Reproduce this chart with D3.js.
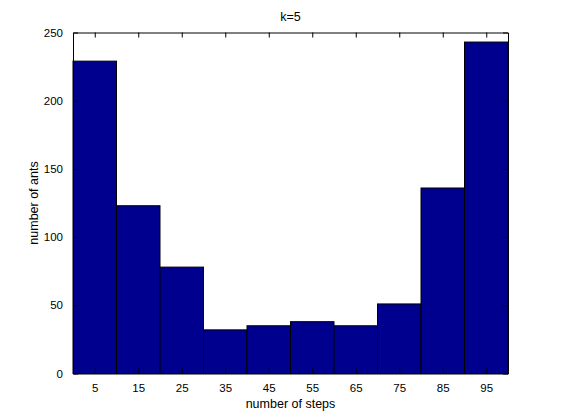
<!DOCTYPE html>
<html><head><meta charset="utf-8">
<script src="https://cdn.jsdelivr.net/npm/d3@7"></script>
<style>body{margin:0;background:#fff}svg{display:block}text{font-family:"Liberation Sans",Arial,sans-serif;fill:#000}</style>
</head><body><svg id="c" width="561" height="420"></svg>
<script>
const binCenters = [5, 15, 25, 35, 45, 55, 65, 75, 85, 95];
const counts = [229, 123, 78, 32, 35, 38, 35, 51, 136, 243];
const yTicks = [0, 50, 100, 150, 200, 250];
const title = "k=5";
const xLabel = "number of steps";
const yLabel = "number of ants";

const svg = d3.select("#c");
const L = 73, R = 508, T = 32.5, B = 373.5;
const x = d3.scaleLinear().domain([0, 100]).range([L, R]);
const y = d3.scaleLinear().domain([0, 250]).range([B, T]);

svg.append("rect").attr("x", L).attr("y", T).attr("width", R - L).attr("height", B - T).attr("fill", "#fff");

svg.append("g").selectAll("rect").data(binCenters).join("rect")
  .attr("x", d => x(d - 5)).attr("width", d => x(d + 5) - x(d - 5))
  .attr("y", (d, i) => y(counts[i])).attr("height", (d, i) => y(0) - y(counts[i]))
  .attr("fill", "#00008f").attr("stroke", "#000").attr("stroke-width", 1);

const fs = "11.5px";
const gB = svg.append("g").attr("transform", `translate(0,${B})`)
  .call(d3.axisBottom(x).tickValues(binCenters).tickSizeInner(-5).tickSizeOuter(0).tickPadding(10));
const gT = svg.append("g").attr("transform", `translate(0,${T})`)
  .call(d3.axisTop(x).tickValues(binCenters).tickSizeInner(-5).tickSizeOuter(0).tickFormat(""));
const gL = svg.append("g").attr("transform", `translate(${L},0)`)
  .call(d3.axisLeft(y).tickValues(yTicks).tickSizeInner(-5).tickSizeOuter(0).tickPadding(10));
const gR = svg.append("g").attr("transform", `translate(${R},0)`)
  .call(d3.axisRight(y).tickValues(yTicks).tickSizeInner(-5).tickSizeOuter(0).tickFormat(""));
[gB, gT, gL, gR].forEach(g => {
  g.selectAll("path.domain").attr("stroke", "#000").attr("stroke-width", 1);
  g.selectAll("line").attr("stroke", "#000");
  g.selectAll("text").attr("font-size", fs).attr("font-family", '"Liberation Sans",Arial,sans-serif');
});

svg.append("text").attr("x", (L + R) / 2).attr("y", 21).attr("text-anchor", "middle").attr("font-size", "12.5px").text(title);
svg.append("text").attr("x", (L + R) / 2).attr("y", 408).attr("text-anchor", "middle").attr("font-size", "12.5px").text(xLabel);
svg.append("text").attr("transform", `translate(38,${(T + B) / 2}) rotate(-90)`).attr("text-anchor", "middle").attr("font-size", "12.5px").text(yLabel);
</script></body></html>
